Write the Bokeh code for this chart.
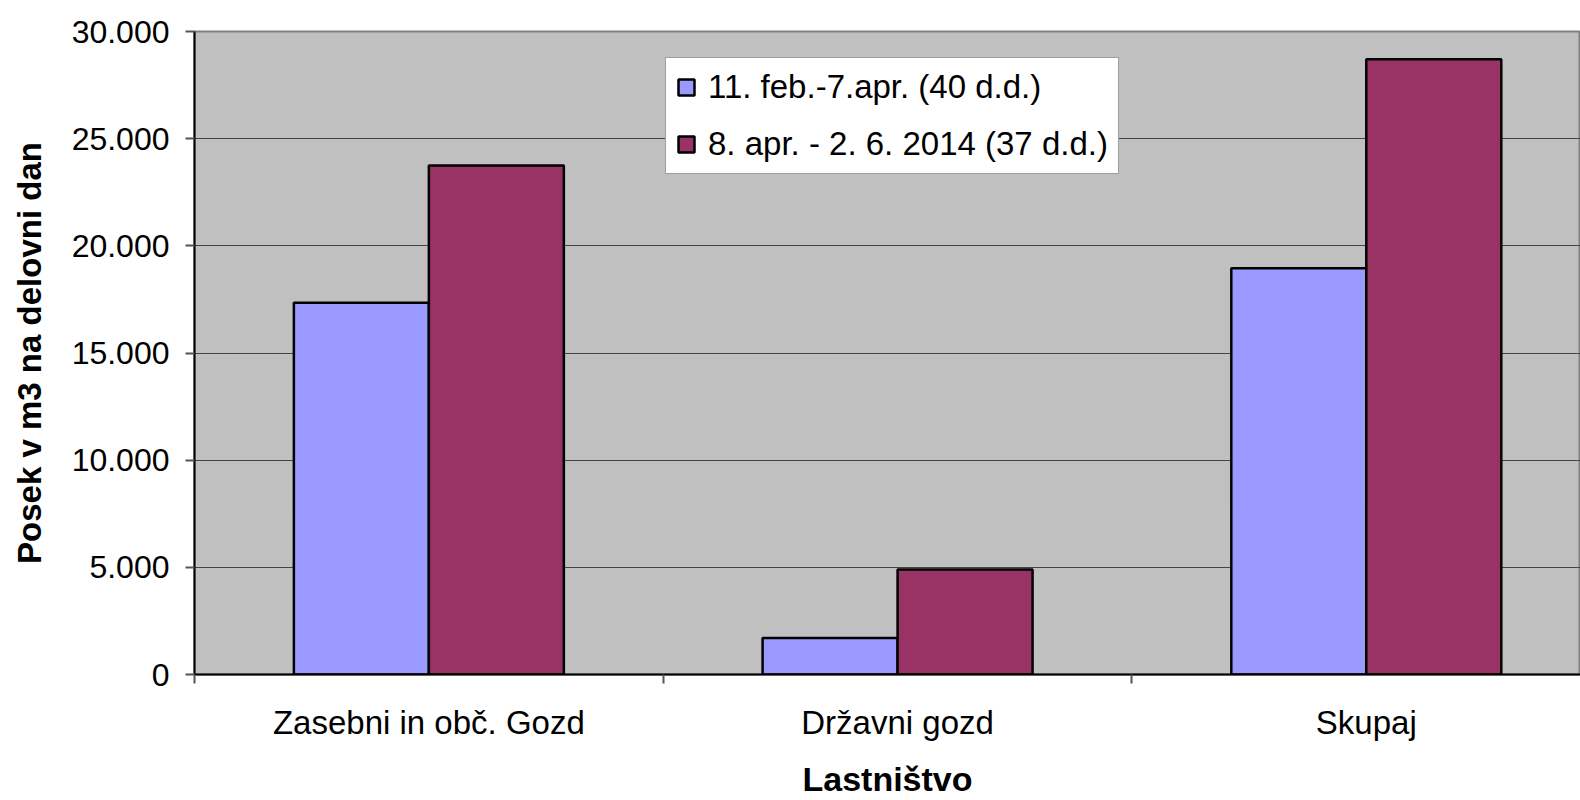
from bokeh.plotting import figure
from bokeh.models import Range1d, FixedTicker, Legend, LegendItem
from bokeh.embed import file_html
from bokeh.resources import INLINE

# ---- data ----
categories = ["Zasebni in obč. Gozd", "Državni gozd", "Skupaj"]
series_names = ["11. feb.-7.apr. (40 d.d.)", "8. apr. - 2. 6. 2014 (37 d.d.)"]
period1 = [17350, 1700, 18950]
period2 = [23750, 4900, 28700]
y_ticks = [0, 5000, 10000, 15000, 20000, 25000, 30000]
y_tick_labels = ["0", "5.000", "10.000", "15.000", "20.000", "25.000", "30.000"]
x_title = "Lastništvo"
y_title = "Posek v m3 na delovni dan"

# ---- style ----
FONT = "Liberation Sans"
colors = ["#9999FF", "#993366"]
bar_w = 0.288
offset = 0.144

centers = [i + 0.5 for i in range(len(categories))]
x1 = [c - offset for c in centers]
x2 = [c + offset for c in centers]

p = figure(width=1580, height=800,
           x_range=Range1d(0, 2.957), y_range=Range1d(0, 30000),
           output_backend="svg", toolbar_location=None,
           min_border_left=194, min_border_top=31, min_border_bottom=126,
           min_border_right=0,
           background_fill_color="#C0C0C0", border_fill_color="white")

p.outline_line_color = "#808080"
p.outline_line_width = 2

r1 = p.vbar(x=x1, top=period1, width=bar_w, bottom=0,
            fill_color=colors[0], line_color="black", line_width=2.5)
r2 = p.vbar(x=x2, top=period2, width=bar_w, bottom=0,
            fill_color=colors[1], line_color="black", line_width=2.5)

# grid
p.xgrid.visible = False
p.ygrid.grid_line_color = "#444444"
p.ygrid.grid_line_width = 1
p.ygrid.ticker = FixedTicker(ticks=y_ticks)

# y axis
ya = p.yaxis[0]
ya.ticker = FixedTicker(ticks=y_ticks)
ya.major_label_overrides = {t: l for t, l in zip(y_ticks, y_tick_labels)}
ya.major_label_text_font = FONT
ya.major_label_text_font_size = "32px"
ya.major_label_text_color = "black"
ya.major_label_standoff = 16
ya.major_tick_out = 9
ya.major_tick_in = 0
ya.major_tick_line_color = "#555555"
ya.major_tick_line_width = 2
ya.minor_tick_line_color = None
ya.axis_line_color = "black"
ya.axis_line_width = 2
ya.axis_label = y_title
ya.axis_label_text_font = FONT
ya.axis_label_text_font_size = "33px"
ya.axis_label_text_font_style = "bold"
ya.axis_label_text_color = "black"
ya.axis_label_standoff = 21

# x axis
xa = p.xaxis[0]
xa.ticker = FixedTicker(ticks=centers, minor_ticks=[0, 1, 2, 3])
xa.major_label_overrides = {c: n for c, n in zip(centers, categories)}
xa.major_label_text_font = FONT
xa.major_label_text_font_size = "33px"
xa.major_label_text_color = "black"
xa.major_label_standoff = 20
xa.major_tick_out = 9
xa.major_tick_in = 0
xa.major_tick_line_color = None
xa.minor_tick_out = 9
xa.minor_tick_in = 0
xa.minor_tick_line_color = "#555555"
xa.minor_tick_line_width = 2
xa.axis_line_color = "black"
xa.axis_line_width = 2
xa.axis_label = x_title
xa.axis_label_text_font = FONT
xa.axis_label_text_font_size = "34px"
xa.axis_label_text_font_style = "bold"
xa.axis_label_text_color = "black"
xa.axis_label_standoff = 16

legend = Legend(items=[LegendItem(label=series_names[0], renderers=[r1]),
                       LegendItem(label=series_names[1], renderers=[r2])],
                location=(471, 500))
legend.label_text_font = FONT
legend.label_text_font_size = "33px"
legend.label_text_color = "black"
legend.glyph_width = 20
legend.glyph_height = 20
legend.label_standoff = 12
legend.label_height = 38
legend.padding = 10
legend.spacing = 19
legend.margin = 0
legend.border_line_color = "#404040"
legend.border_line_width = 1
legend.background_fill_color = "white"
legend.background_fill_alpha = 1
p.add_layout(legend)

open("out.html", "w").write(file_html(p, INLINE))
